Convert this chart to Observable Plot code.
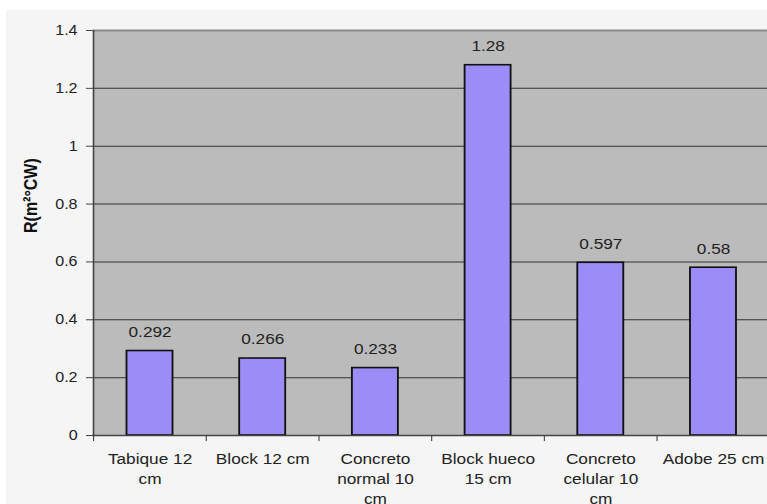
<!DOCTYPE html>
<html>
<head>
<meta charset="utf-8">
<script src="https://cdn.jsdelivr.net/npm/d3@7"></script>
<script src="https://cdn.jsdelivr.net/npm/@observablehq/plot@0.6"></script>
<style>
  html, body { margin: 0; padding: 0; background: #ffffff; overflow: hidden; }
  body { width: 767px; height: 504px; position: relative; }
  #panel { position: absolute; left: 6px; top: 10px; right: 0; bottom: 0; background: #f5f5f5; }
  #chart { position: absolute; left: 0; top: 0; }
  /* the chart is laid out narrow and widened horizontally, like the original figure */
  #chart svg { transform: scaleX(1.15); transform-origin: 0 0; }
</style>
</head>
<body>
<div id="panel"></div>
<div id="chart"></div>
<script>
// Thermal resistance of wall materials
const categories = ["Tabique 12 cm", "Block 12 cm", "Concreto normal 10 cm", "Block hueco 15 cm", "Concreto celular 10 cm", "Adobe 25 cm"];
const tickLabels = ["Tabique 12\ncm", "Block 12 cm", "Concreto\nnormal 10\ncm", "Block hueco\n15 cm", "Concreto\ncelular 10\ncm", "Adobe 25 cm"];
const resistance = [0.292, 0.266, 0.233, 1.28, 0.597, 0.58];
const yTicks = [0, 0.2, 0.4, 0.6, 0.8, 1, 1.2, 1.4];
const yLabel = "R(m²°CW)";

const data = categories.map((c, i) => ({cat: c, label: tickLabels[i], r: resistance[i]}));

const stretch = 1.15;                 // horizontal widening applied to the svg
const W = 767 / stretch;
const left = 92 / stretch, right = 770 / stretch;
const step = (right - left) / categories.length;

const chart = Plot.plot({
  width: W,
  height: 504,
  marginLeft: left,
  marginRight: 0,
  marginTop: 30,
  marginBottom: 69,
  style: {background: "transparent", fontFamily: "'Liberation Sans', Arial, sans-serif", fontSize: "15px", overflow: "hidden", color: "#222"},
  x: {domain: categories, range: [left, right], paddingInner: 0.59, paddingOuter: 0.295, axis: null},
  y: {domain: [0, 1.4], range: [435, 30], axis: null},
  marks: [
    Plot.frame({fill: "#bbbbbb"}),
    Plot.ruleY(yTicks.filter(d => d > 0 && d < 1.4), {stroke: "#333", strokeWidth: 1}),
    Plot.ruleY([1.4], {stroke: "#8a8a8a", strokeWidth: 2}),
    Plot.barY(data, {x: "cat", y: "r", fill: "#9b8cf7", stroke: "#111", strokeWidth: 1.6}),
    Plot.ruleY([0], {stroke: "#444", strokeWidth: 1.5}),
    // left axis line
    Plot.ruleX([categories[0]], {x: d => d, dx: -step / 2, y1: 0, y2: 1.4, stroke: "#444", strokeWidth: 1.3}),
    // ticks between categories
    Plot.axisX({tickSize: 6, tickFormat: () => "", label: null, dx: -step / 2, stroke: "#444"}),
    Plot.axisY({ticks: yTicks, tickSize: 6 / stretch, tickPadding: 9 / stretch, tickFormat: d => String(d), label: null, fontSize: 14, stroke: "#444", fill: "#222"}),
    Plot.text(data, {x: "cat", frameAnchor: "bottom", text: "label", lineAnchor: "top", dy: 14, lineHeight: 1.33, fill: "#222"}),
    Plot.text(data, {x: "cat", y: "r", text: d => String(d.r), dy: -19, fill: "#222"}),
    Plot.text([yLabel], {frameAnchor: "left", dx: -(left - 31 / stretch), rotate: -90, text: d => d, fontWeight: "bold", fontSize: 16, fill: "#111"})
  ]
});
document.getElementById("chart").append(chart);
</script>
</body>
</html>
